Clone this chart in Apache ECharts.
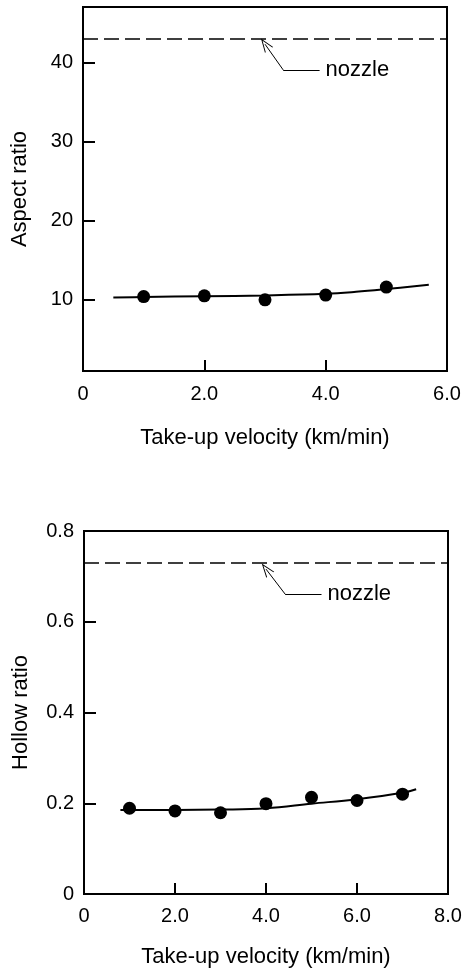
<!DOCTYPE html>
<html>
<head>
<meta charset="utf-8">
<script src="https://cdn.jsdelivr.net/npm/echarts@6/dist/echarts.min.js"></script>
<style>
html,body{margin:0;padding:0;background:#fff;}
#chart{width:466px;height:976px;}
</style>
</head>
<body>
<div id="chart"></div>
<script>
// ---- Data ----
const xTitle = 'Take-up velocity (km/min)';
const topYTitle = 'Aspect ratio';
const botYTitle = 'Hollow ratio';
const noteText = 'nozzle';

const topX = [1, 2, 3, 4, 5];
const topY = [10.4, 10.5, 10.0, 10.6, 11.6];
const topCurveX = [0.5, 1, 2, 3, 4, 4.5, 5, 5.7];
const topCurveY = [10.3, 10.35, 10.45, 10.55, 10.75, 11.0, 11.35, 11.9];
const topNozzle = 43;
const topArrowX = [3.0, 3.3, 3.9];
const topArrowY = [42.3, 39.05, 39.05];
const topYTicks = [10, 20, 30, 40];

const botX = [1, 2, 3, 4, 5, 6, 7];
const botY = [0.189, 0.183, 0.179, 0.199, 0.213, 0.206, 0.22];
const botCurveX = [0.8, 1, 2, 3, 4, 5, 6, 7, 7.3];
const botCurveY = [0.185, 0.185, 0.185, 0.186, 0.189, 0.199, 0.209, 0.223, 0.231];
const botNozzle = 0.73;
const botArrowX = [4.0, 4.42, 5.22];
const botArrowY = [0.716, 0.661, 0.661];

// ---- Chart ----
const FONT = 'Liberation Sans';
const FS = 20;      // tick labels
const FT = 22;      // axis titles
const FN = 22;      // annotation
const black = '#000';
const zip = (a, b) => a.map((v, i) => [v, b[i]]);
const arrowSym = 'path://M0,0 L6,13 L4.8,13 L0,2.6 L-4.8,13 L-6,13 Z';

function xFmt(v) { return v === 0 ? '0' : v.toFixed(1); }

function xAxis(gi, max) {
  return {
    type: 'value', gridIndex: gi, min: 0, max: max, interval: 2,
    name: xTitle, nameLocation: 'middle', nameGap: gi === 0 ? 56 : 52,
    nameTextStyle: { fontFamily: FONT, fontSize: FT, color: black },
    axisLine: { show: true, onZero: false, lineStyle: { color: black, width: 2 } },
    axisTick: { show: true, inside: true, length: 11, lineStyle: { color: black, width: 2 } },
    axisLabel: { fontFamily: FONT, fontSize: FS, color: black, margin: gi === 0 ? 13 : 12, formatter: xFmt },
    splitLine: { show: false }
  };
}

const chart = echarts.init(document.getElementById('chart'), null, { renderer: 'canvas' });
chart.setOption({
  backgroundColor: '#fff',
  animation: false,
  grid: [
    { left: 83, right: 19, top: 7, height: 364, show: true, borderColor: black, borderWidth: 2, backgroundColor: 'transparent' },
    { left: 84, right: 18, top: 531, height: 363, show: true, borderColor: black, borderWidth: 2, backgroundColor: 'transparent' }
  ],
  xAxis: [xAxis(0, 6), xAxis(1, 8)],
  yAxis: [
    {
      type: 'value', gridIndex: 0, min: 1, max: 47,
      name: topYTitle, nameLocation: 'middle', nameGap: 52, nameRotate: 90,
      nameTextStyle: { fontFamily: FONT, fontSize: FT, color: black },
      axisLine: { show: true, onZero: false, lineStyle: { color: black, width: 2 } },
      axisTick: { show: true, inside: true, length: 12, customValues: topYTicks, lineStyle: { color: black, width: 2 } },
      axisLabel: { fontFamily: FONT, fontSize: FS, color: black, margin: 10, customValues: topYTicks },
      splitLine: { show: false }
    },
    {
      type: 'value', gridIndex: 1, min: 0, max: 0.8, interval: 0.2,
      name: botYTitle, nameLocation: 'middle', nameGap: 52, nameRotate: 90,
      nameTextStyle: { fontFamily: FONT, fontSize: FT, color: black },
      axisLine: { show: true, onZero: false, lineStyle: { color: black, width: 2 } },
      axisTick: { show: true, inside: true, length: 12, lineStyle: { color: black, width: 2 } },
      axisLabel: { fontFamily: FONT, fontSize: FS, color: black, margin: 10, formatter: v => v === 0 ? '0' : v.toFixed(1) },
      splitLine: { show: false }
    }
  ],
  series: [
    {
      type: 'line', xAxisIndex: 0, yAxisIndex: 0, data: zip(topCurveX, topCurveY),
      smooth: 0.4, showSymbol: false, lineStyle: { color: black, width: 2 }, z: 2,
      markLine: {
        silent: true, symbol: ['none', 'none'], label: { show: false },
        lineStyle: { color: black, width: 1.5, type: [15, 6] },
        data: [{ yAxis: topNozzle }]
      }
    },
    {
      type: 'scatter', xAxisIndex: 0, yAxisIndex: 0, data: zip(topX, topY),
      symbolSize: 13, itemStyle: { color: black, opacity: 1 }, z: 3
    },
    {
      type: 'scatter', xAxisIndex: 0, yAxisIndex: 0,
      data: [[topArrowX[2], topArrowY[2]]], symbolSize: 0,
      itemStyle: { opacity: 1 },
      label: { show: true, position: 'right', distance: 6, formatter: noteText, fontFamily: FONT, fontSize: FN, color: black },
      markLine: {
        silent: true, label: { show: false }, lineStyle: { color: black, width: 1, type: 'solid' },
        data: [
          [{ coord: [topArrowX[1], topArrowY[1]], symbol: 'none' }, { coord: [topArrowX[0], topArrowY[0]], symbol: arrowSym, symbolSize: [10, 14] }],
          [{ coord: [topArrowX[1], topArrowY[1]], symbol: 'none' }, { coord: [topArrowX[2], topArrowY[2]], symbol: 'none' }]
        ]
      }
    },
    {
      type: 'line', xAxisIndex: 1, yAxisIndex: 1, data: zip(botCurveX, botCurveY),
      smooth: 0.4, showSymbol: false, lineStyle: { color: black, width: 2 }, z: 2,
      markLine: {
        silent: true, symbol: ['none', 'none'], label: { show: false },
        lineStyle: { color: black, width: 1.5, type: [15, 6] },
        data: [{ yAxis: botNozzle }]
      }
    },
    {
      type: 'scatter', xAxisIndex: 1, yAxisIndex: 1, data: zip(botX, botY),
      symbolSize: 13, itemStyle: { color: black, opacity: 1 }, z: 3
    },
    {
      type: 'scatter', xAxisIndex: 1, yAxisIndex: 1,
      data: [[botArrowX[2], botArrowY[2]]], symbolSize: 0,
      itemStyle: { opacity: 1 },
      label: { show: true, position: 'right', distance: 6, formatter: noteText, fontFamily: FONT, fontSize: FN, color: black },
      markLine: {
        silent: true, label: { show: false }, lineStyle: { color: black, width: 1, type: 'solid' },
        data: [
          [{ coord: [botArrowX[1], botArrowY[1]], symbol: 'none' }, { coord: [botArrowX[0], botArrowY[0]], symbol: arrowSym, symbolSize: [10, 14] }],
          [{ coord: [botArrowX[1], botArrowY[1]], symbol: 'none' }, { coord: [botArrowX[2], botArrowY[2]], symbol: 'none' }]
        ]
      }
    }
  ]
});
</script>
</body>
</html>
